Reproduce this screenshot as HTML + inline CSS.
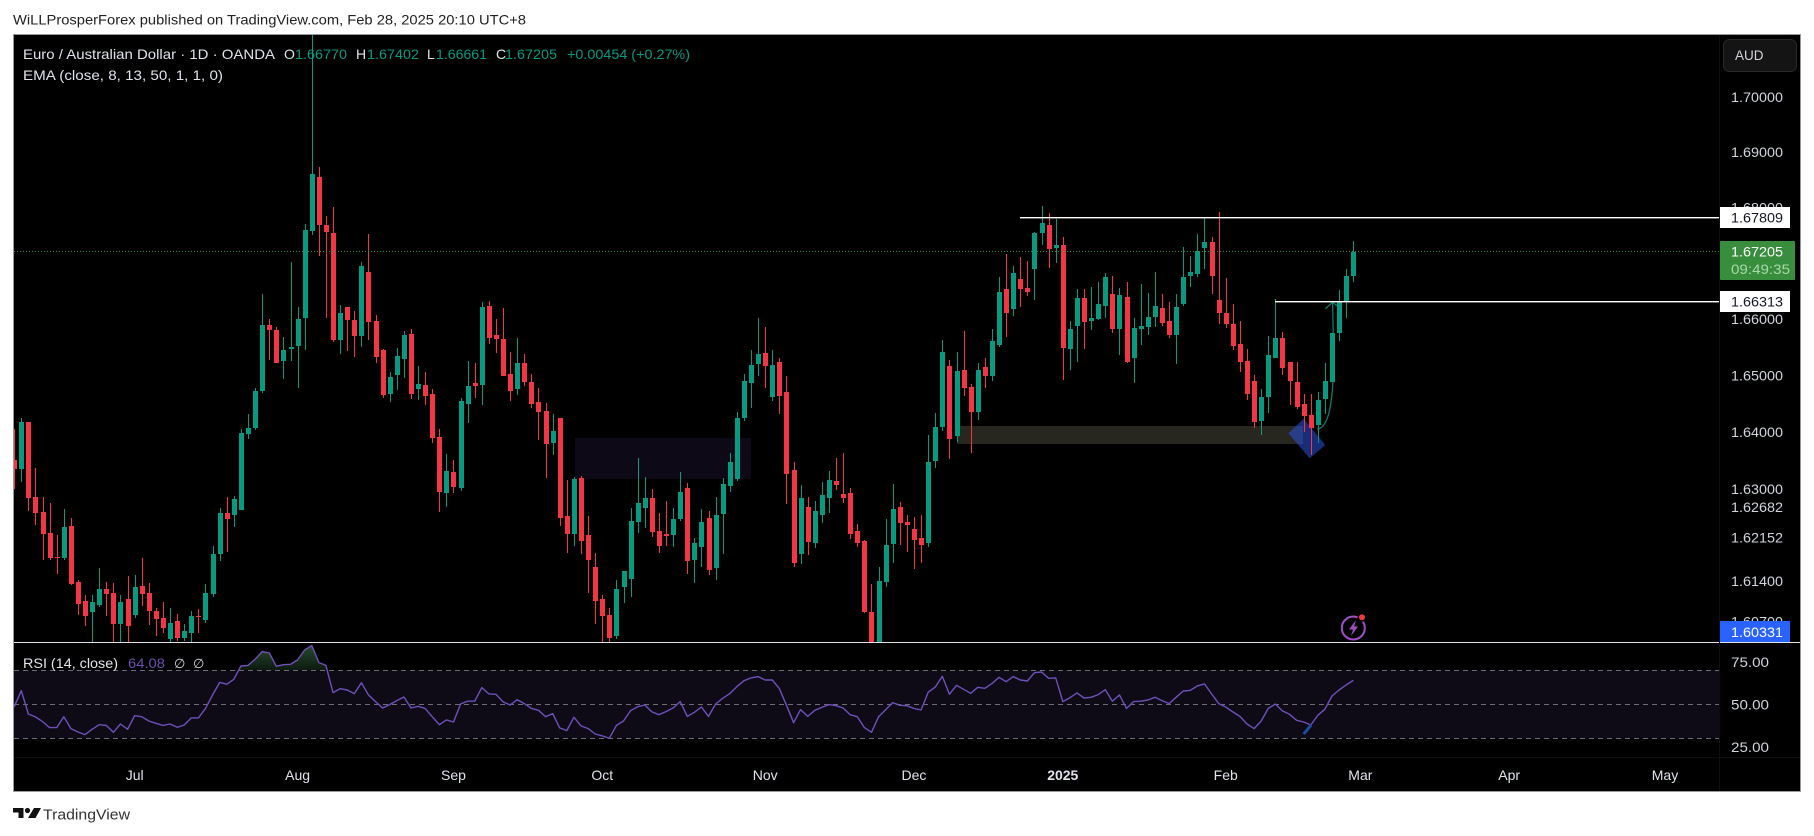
<!DOCTYPE html>
<html lang="en">
<head>
<meta charset="utf-8">
<title>EUR/AUD 1D chart</title>
<style>
html,body{margin:0;padding:0;background:#fff;width:1814px;height:836px;overflow:hidden}
svg{display:block;position:absolute;left:0;top:0}
text{font-family:"Liberation Sans",sans-serif}
</style>
</head>
<body>
<svg id="chart" width="1814" height="836" viewBox="0 0 1814 836" xmlns="http://www.w3.org/2000/svg">
  <defs>
    <clipPath id="clipMain"><rect x="14" y="35" width="1705" height="607"/></clipPath>
    <clipPath id="clipRsi"><rect x="14" y="644" width="1705" height="113"/></clipPath>
    <clipPath id="clipOb"><rect x="14" y="644" width="1705" height="26.3"/></clipPath>
    <linearGradient id="obGradient" gradientUnits="userSpaceOnUse" x1="0" y1="646" x2="0" y2="670">
      <stop offset="0" stop-color="#264a2c"/>
      <stop offset="1" stop-color="#0d1a10"/>
    </linearGradient>
  </defs>
  <rect x="0" y="0" width="1814" height="836" fill="#ffffff"/>
  <text x="13" y="24.5" font-size="14" fill="#222222" textLength="513" lengthAdjust="spacingAndGlyphs">WiLLProsperForex published on TradingView.com, Feb 28, 2025 20:10 UTC+8</text>
  <rect x="13.5" y="34.5" width="1787" height="757" fill="#000000" stroke="#9a9a9a" stroke-width="1"/>

  <g id="drawingsLayer" clip-path="url(#clipMain)">
    <rect x="575" y="438" width="176" height="41" fill="#0e0917"/>
    <rect x="957" y="426" width="346" height="18" fill="#27261f"/>
    <polygon points="1288.3,433.3 1303.7,418.7 1325.3,445 1309.7,458.3" fill="#2952dc" fill-opacity="0.55"/>
    <path d="M1317 429 C1328 429 1334 405 1333.6 350 L1332.6 303" fill="none" stroke="#0d7a69" stroke-width="1.3"/>
    <path d="M1325.3 308.7 L1332.7 302.3 L1339.3 307.3" fill="none" stroke="#0d7a69" stroke-width="1.3"/>
  </g>
  <g id="candleLayer" clip-path="url(#clipMain)"></g>
  <g id="priceAxis"></g>
  <g id="levelLayer"></g>

  <text x="23" y="59" font-size="14" fill="#e0e3eb" textLength="252" lengthAdjust="spacingAndGlyphs">Euro / Australian Dollar · 1D · OANDA</text>
  <text x="284" y="59" font-size="14" fill="#e0e3eb">O</text>
  <text x="295" y="59" font-size="14" fill="#089981" textLength="52" lengthAdjust="spacingAndGlyphs">1.66770</text>
  <text x="356" y="59" font-size="14" fill="#e0e3eb">H</text>
  <text x="367" y="59" font-size="14" fill="#089981" textLength="52" lengthAdjust="spacingAndGlyphs">1.67402</text>
  <text x="427" y="59" font-size="14" fill="#e0e3eb">L</text>
  <text x="436" y="59" font-size="14" fill="#089981" textLength="51" lengthAdjust="spacingAndGlyphs">1.66661</text>
  <text x="496" y="59" font-size="14" fill="#e0e3eb">C</text>
  <text x="505" y="59" font-size="14" fill="#089981" textLength="52" lengthAdjust="spacingAndGlyphs">1.67205</text>
  <text x="567" y="59" font-size="14" fill="#089981" textLength="123" lengthAdjust="spacingAndGlyphs">+0.00454 (+0.27%)</text>
  <text x="23" y="80" font-size="14" fill="#e0e3eb" textLength="200" lengthAdjust="spacingAndGlyphs">EMA (close, 8, 13, 50, 1, 1, 0)</text>

  <rect x="1723.5" y="39.5" width="73" height="32" rx="6" fill="#141414" stroke="#2a2a2a"/>
  <text x="1735" y="60" font-size="13.5" fill="#d1d4dc">AUD</text>

  <g>
    <circle cx="1353.3" cy="628" r="11.5" fill="none" stroke="#a04ec8" stroke-width="2"/>
    <path d="M1356 620 L1349 629.5 H1353 L1351 636 L1358 626.5 H1354 Z" fill="#a04ec8"/>
    <circle cx="1362" cy="617.3" r="4.5" fill="#000000"/>
    <circle cx="1362" cy="617.3" r="3" fill="#f23645"/>
  </g>

  <rect x="14" y="642" width="1786" height="1" fill="#e0e3eb"/>

  <g id="rsiLayer"></g>
  <text x="23" y="668" font-size="14" fill="#e0e3eb" textLength="95" lengthAdjust="spacingAndGlyphs">RSI (14, close)</text>
  <text x="128" y="668" font-size="14" fill="#6a4fb0" textLength="37" lengthAdjust="spacingAndGlyphs">64.08</text>
  <text x="174" y="668" font-size="13" fill="#d1d4dc">∅</text>
  <text x="193" y="668" font-size="13" fill="#d1d4dc">∅</text>

  <rect x="1719" y="35" width="1" height="756" fill="#0e0e0e"/>
  <rect x="14" y="757" width="1786" height="1" fill="#0e0e0e"/>
  <g id="timeAxis"></g>

  <g>
    <path d="M13 808 H23.5 V818 H18.5 V812.5 H13 Z" fill="#111111"/>
    <circle cx="27.5" cy="810.5" r="2.6" fill="#111111"/>
    <path d="M34 808 H41 L35.5 818 H28 Z" fill="#111111"/>
  </g>
  <text x="43" y="819.5" font-size="15" fill="#333333" textLength="87" lengthAdjust="spacingAndGlyphs">TradingView</text>
</svg>

<script>
const opens = [
1.6351,1.6335,1.6418,1.6286,1.6260,1.6223,1.6181,1.6180,1.6235,1.6138,
1.6105,1.6086,1.6098,1.6126,1.6119,1.6066,1.6109,1.6081,1.6131,1.6119,
1.6088,1.6076,1.6040,1.6071,1.6042,1.6050,1.6079,1.6073,1.6117,1.6187,
1.6258,1.6255,1.6264,1.6396,1.6407,1.6472,1.6589,1.6580,1.6525,1.6547,
1.6552,1.6602,1.6757,1.6855,1.6768,1.6754,1.6563,1.6621,1.6598,1.6570,
1.6684,1.6596,1.6545,1.6467,1.6501,1.6529,1.6574,1.6476,1.6483,1.6467,
1.6391,1.6293,1.6330,1.6302,1.6449,1.6487,1.6483,1.6623,1.6572,1.6564,
1.6502,1.6476,1.6522,1.6488,1.6453,1.6437,1.6381,1.6424,1.6253,1.6222,
1.6319,1.6220,1.6165,1.6109,1.6081,1.6045,1.6129,1.6143,1.6242,1.6267,
1.6284,1.6227,1.6222,1.6220,1.6248,1.6302,1.6176,1.6199,1.6249,1.6162,
1.6256,1.6305,1.6318,1.6424,1.6487,1.6520,1.6540,1.6462,1.6524,1.6471,
1.6333,1.6187,1.6268,1.6206,1.6255,1.6284,1.6314,1.6291,1.6293,1.6227,
1.6209,1.6086,1.6021,1.6138,1.6204,1.6268,1.6242,1.6230,1.6215,1.6206,
1.6349,1.6409,1.6517,1.6393,1.6510,1.6479,1.6435,1.6515,1.6499,1.6554,
1.6653,1.6618,1.6671,1.6655,1.6689,1.6754,1.6768,1.6727,1.6732,1.6547,
1.6588,1.6638,1.6596,1.6600,1.6623,1.6645,1.6582,1.6639,1.6531,1.6582,
1.6586,1.6604,1.6620,1.6596,1.6572,1.6627,1.6677,1.6680,1.6727,1.6738,
1.6634,1.6611,1.6591,1.6556,1.6525,1.6490,1.6419,1.6462,1.6531,1.6566,
1.6524,1.6488,1.6449,1.6430,1.6412,1.6458,1.6488,1.6575,1.6630,1.66770];

const highs = [
1.6405,1.6424,1.6418,1.6337,1.6286,1.6276,1.6220,1.6265,1.6249,1.6142,
1.6116,1.6116,1.6162,1.6138,1.6136,1.6116,1.6149,1.6150,1.6180,1.6136,
1.6093,1.6104,1.6093,1.6083,1.6066,1.6088,1.6091,1.6135,1.6201,1.6267,
1.6286,1.6288,1.6405,1.6432,1.6477,1.6645,1.6600,1.6586,1.6568,1.6702,
1.6621,1.6770,1.7150,1.6873,1.6784,1.6801,1.6625,1.6621,1.6614,1.6702,
1.6752,1.6607,1.6547,1.6506,1.6548,1.6579,1.6582,1.6517,1.6506,1.6476,
1.6405,1.6361,1.6351,1.6460,1.6525,1.6522,1.6630,1.6632,1.6600,1.6620,
1.6541,1.6566,1.6538,1.6502,1.6477,1.6451,1.6432,1.6424,1.6316,1.6321,
1.6323,1.6253,1.6188,1.6116,1.6093,1.6142,1.6157,1.6267,1.6355,1.6321,
1.6300,1.6258,1.6279,1.6267,1.6330,1.6311,1.6215,1.6265,1.6262,1.6286,
1.6319,1.6363,1.6435,1.6502,1.6545,1.6602,1.6586,1.6545,1.6531,1.6499,
1.6347,1.6307,1.6286,1.6279,1.6312,1.6332,1.6355,1.6363,1.6302,1.6239,
1.6211,1.6135,1.6165,1.6248,1.6309,1.6277,1.6255,1.6251,1.6255,1.6395,
1.6433,1.6563,1.6527,1.6541,1.6579,1.6485,1.6522,1.6531,1.6582,1.6675,
1.6716,1.6695,1.6711,1.6704,1.6756,1.6802,1.6790,1.6779,1.6747,1.6596,
1.6653,1.6653,1.6657,1.6666,1.6682,1.6677,1.6655,1.6666,1.6602,1.6662,
1.6646,1.6684,1.6645,1.6630,1.6645,1.6729,1.6713,1.6752,1.6781,1.6747,
1.6792,1.6673,1.6627,1.6596,1.6547,1.6501,1.6476,1.6570,1.6636,1.6577,
1.6524,1.6524,1.6467,1.6467,1.6471,1.6522,1.6575,1.6652,1.6689,1.67402];

const lows = [
1.6300,1.6312,1.6262,1.6237,1.6176,1.6176,1.6152,1.6176,1.6133,1.6081,
1.6062,1.6021,1.6095,1.6079,1.6030,1.6021,1.6021,1.6076,1.6097,1.6064,
1.6045,1.6050,1.6030,1.6036,1.6036,1.6025,1.6050,1.6067,1.6112,1.6175,
1.6190,1.6234,1.6264,1.6388,1.6404,1.6469,1.6527,1.6522,1.6494,1.6525,
1.6477,1.6545,1.6750,1.6713,1.6602,1.6559,1.6538,1.6543,1.6532,1.6550,
1.6563,1.6522,1.6460,1.6453,1.6474,1.6495,1.6458,1.6456,1.6448,1.6381,
1.6260,1.6268,1.6293,1.6297,1.6416,1.6460,1.6448,1.6556,1.6540,1.6499,
1.6455,1.6465,1.6481,1.6442,1.6386,1.6319,1.6360,1.6235,1.6188,1.6201,
1.6187,1.6119,1.6066,1.6021,1.6030,1.6040,1.6102,1.6112,1.6223,1.6232,
1.6216,1.6188,1.6201,1.6199,1.6244,1.6152,1.6136,1.6164,1.6150,1.6142,
1.6187,1.6295,1.6314,1.6419,1.6442,1.6499,1.6477,1.6455,1.6432,1.6274,
1.6164,1.6169,1.6185,1.6197,1.6240,1.6258,1.6298,1.6276,1.6213,1.6199,
1.6084,1.6004,1.6004,1.6129,1.6171,1.6202,1.6190,1.6161,1.6171,1.6199,
1.6337,1.6402,1.6353,1.6383,1.6463,1.6363,1.6421,1.6477,1.6490,1.6550,
1.6568,1.6605,1.6621,1.6641,1.6634,1.6732,1.6691,1.6700,1.6492,1.6510,
1.6524,1.6547,1.6580,1.6598,1.6602,1.6575,1.6536,1.6522,1.6487,1.6554,
1.6572,1.6586,1.6588,1.6566,1.6520,1.6623,1.6657,1.6675,1.6689,1.6645,
1.6591,1.6584,1.6545,1.6506,1.6456,1.6407,1.6395,1.6433,1.6531,1.6501,
1.6448,1.6441,1.6400,1.6360,1.6381,1.6432,1.6488,1.6561,1.6602,1.66661];

const closes = [
1.6335,1.6418,1.6284,1.6258,1.6222,1.6180,1.6180,1.6234,1.6135,1.6100,
1.6079,1.6104,1.6126,1.6117,1.6066,1.6104,1.6062,1.6129,1.6117,1.6088,
1.6074,1.6059,1.6067,1.6042,1.6054,1.6079,1.6078,1.6119,1.6187,1.6258,
1.6248,1.6282,1.6398,1.6407,1.6472,1.6589,1.6580,1.6522,1.6545,1.6550,
1.6600,1.6759,1.6860,1.6768,1.6756,1.6563,1.6611,1.6598,1.6570,1.6695,
1.6595,1.6532,1.6465,1.6497,1.6534,1.6572,1.6467,1.6485,1.6463,1.6390,
1.6295,1.6332,1.6304,1.6455,1.6481,1.6481,1.6621,1.6566,1.6564,1.6499,
1.6472,1.6522,1.6488,1.6449,1.6435,1.6379,1.6402,1.6249,1.6222,1.6318,
1.6209,1.6176,1.6105,1.6079,1.6042,1.6126,1.6157,1.6244,1.6276,1.6284,
1.6225,1.6201,1.6218,1.6248,1.6295,1.6175,1.6206,1.6242,1.6159,1.6255,
1.6309,1.6347,1.6425,1.6490,1.6518,1.6538,1.6517,1.6518,1.6463,1.6326,
1.6171,1.6284,1.6208,1.6262,1.6290,1.6316,1.6307,1.6284,1.6222,1.6206,
1.6086,1.6021,1.6140,1.6202,1.6265,1.6240,1.6237,1.6211,1.6202,1.6347,
1.6409,1.6541,1.6388,1.6508,1.6477,1.6435,1.6510,1.6499,1.6561,1.6648,
1.6611,1.6682,1.6653,1.6648,1.6754,1.6772,1.6725,1.6732,1.6548,1.6582,
1.6638,1.6595,1.6602,1.6627,1.6675,1.6582,1.6643,1.6524,1.6584,1.6588,
1.6604,1.6623,1.6593,1.6572,1.6621,1.6675,1.6684,1.6721,1.6738,1.6677,
1.6611,1.6591,1.6552,1.6524,1.6467,1.6418,1.6462,1.6536,1.6566,1.6513,
1.6490,1.6444,1.6428,1.6407,1.6456,1.6490,1.6575,1.6630,1.6677,1.67205];

const rsiValues = [
48.6,58.0,44.3,42.5,39.8,36.3,36.3,42.7,35.7,33.7,
32.2,35.3,38.0,37.5,33.5,38.4,35.3,43.3,42.7,40.2,
38.8,37.6,38.4,36.5,37.8,42.0,42.0,47.6,55.5,62.9,
61.8,64.7,72.5,72.9,76.5,81.0,80.2,72.4,73.3,73.5,
76.1,82.0,84.5,74.5,72.9,56.9,59.2,58.4,56.3,62.7,
55.5,51.6,47.8,49.8,52.2,54.3,47.8,48.8,47.6,42.7,
38.0,40.8,39.6,50.2,51.8,51.8,59.8,56.1,55.9,51.4,
49.6,52.7,50.4,47.6,46.5,42.7,44.5,36.1,34.5,42.4,
37.3,35.7,32.5,31.4,30.0,37.6,40.2,46.3,48.6,49.6,
45.5,43.9,45.7,47.8,51.6,42.9,45.3,48.4,42.9,50.2,
53.5,56.3,60.4,63.9,65.5,66.3,64.3,64.3,59.2,49.4,
39.2,46.9,42.9,46.5,48.2,49.8,49.2,47.8,43.9,42.7,
36.3,33.5,42.7,46.9,51.0,49.4,49.2,47.5,46.7,57.1,
60.2,66.5,55.9,61.2,58.8,56.5,60.0,59.4,62.2,65.9,
63.3,66.3,64.3,63.7,68.6,69.0,65.3,65.5,51.6,53.9,
56.7,53.7,54.1,55.7,58.6,51.8,55.5,47.6,51.6,51.8,
52.5,54.1,52.2,50.4,54.1,57.8,58.2,60.8,62.0,56.1,
50.4,48.4,45.5,42.9,38.4,35.7,40.2,47.5,50.2,46.1,
44.1,40.6,39.6,37.8,43.5,47.1,54.9,58.4,61.4,64.08];

const priceTicks = [1.70000,1.69000,1.68000,1.66000,1.65000,1.64000,1.63000,1.62682,1.62152,1.61400,1.60700];
const rsiTicks = [75,50,25];
const rsiLevels = [70,50,30];
const timeLabels = ["Jul","Aug","Sep","Oct","Nov","Dec","2025","Feb","Mar","Apr","May"];
const timeBars = [17,40,62,83,106,127,148,171,190,211,233];
const horizontalLevels = [1.67809,1.66313];
const horizontalStartBars = [142,178];
const lastPrice = 1.67205;
const countdown = "09:49:35";
const diagonalRsiFrom = [182,32.5];
const diagonalRsiTo = [183.05,37.8];

const NS = "http://www.w3.org/2000/svg";
function xAt(i){ return 14.2 + 7.085 * i; }
function yAt(p){ return 97 + 9322 * Math.log(1.7 / p); }
function rsiY(v){ return 704.3 - (v - 50) * 1.7; }
function make(tag, attrs, parent){
  const el = document.createElementNS(NS, tag);
  for (const k in attrs) el.setAttribute(k, attrs[k]);
  parent.appendChild(el);
  return el;
}

const candleLayer = document.getElementById("candleLayer");
const GREEN = "#089981", RED = "#f23645";
for (let i = 0; i < closes.length; i++) {
  const cx = Math.round(xAt(i));
  const col = closes[i] >= opens[i] ? GREEN : RED;
  const hiY = Math.round(yAt(highs[i]));
  const loY = Math.round(yAt(lows[i]));
  const topY = Math.round(yAt(Math.max(opens[i], closes[i])));
  const botY = Math.round(yAt(Math.min(opens[i], closes[i])));
  const wick = make("rect", {x: cx, y: hiY, width: 1, height: Math.max(1, loY - hiY), fill: col, "shape-rendering": "crispEdges"}, candleLayer);
  
  
  const body = make("rect", {x: cx - 2, y: topY, width: 5, height: Math.max(1, botY - topY), fill: col, "shape-rendering": "crispEdges"}, candleLayer);
  
  
}

const priceAxis = document.getElementById("priceAxis");
priceTicks.forEach(function (p) {
  const t = make("text", {x: 1731, y: yAt(p) + 5, "font-size": 14, fill: "#d1d4dc", textLength: 52, lengthAdjust: "spacingAndGlyphs"}, priceAxis);
  t.textContent = p.toFixed(5);
  
  
});

const levelLayer = document.getElementById("levelLayer");
const dotted = make("line", {x1: 14, x2: 1719, y1: Math.floor(yAt(lastPrice)) + 0.5, y2: Math.floor(yAt(lastPrice)) + 0.5, stroke: "#388e3c", "stroke-width": 1, "stroke-dasharray": "1 2"}, levelLayer);



horizontalLevels.forEach(function (p, k) {
  const ly = Math.floor(yAt(p));
  const startX = Math.round(xAt(horizontalStartBars[k]));
  const line = make("rect", {x: startX, y: ly, width: 1719 - startX, height: 1.4, fill: "#ffffff"}, levelLayer);
  
  
  const box = make("rect", {x: 1720, y: ly - 10, width: 70, height: 21, fill: "#ffffff"}, levelLayer);
  
  
  const txt = make("text", {x: 1731, y: ly + 5.5, "font-size": 14, fill: "#131722", textLength: 52, lengthAdjust: "spacingAndGlyphs"}, levelLayer);
  txt.textContent = p.toFixed(5);
  
  
});

const lastBox = make("rect", {x: 1720, y: 241, width: 75, height: 39, fill: "#388e3c", rx: 1}, levelLayer);


const lastTxt = make("text", {x: 1731, y: yAt(lastPrice) + 5, "font-size": 14, fill: "#ffffff", textLength: 52, lengthAdjust: "spacingAndGlyphs"}, levelLayer);
lastTxt.textContent = lastPrice.toFixed(5);


const cdTxt = make("text", {x: 1731, y: 274, "font-size": 14, fill: "#a9d8ab", textLength: 59, lengthAdjust: "spacingAndGlyphs"}, levelLayer);
cdTxt.textContent = countdown;


const blueBox = make("rect", {x: 1720, y: 621, width: 70, height: 21, fill: "#2962ff"}, levelLayer);


const blueTxt = make("text", {x: 1731, y: 637, "font-size": 14, fill: "#ffffff", textLength: 52, lengthAdjust: "spacingAndGlyphs"}, levelLayer);
blueTxt.textContent = "1.60331";



const rsiLayer = document.getElementById("rsiLayer");
const band = make("rect", {x: 14, y: rsiY(70), width: 1705, height: rsiY(30) - rsiY(70), fill: "#0e0b17"}, rsiLayer);


const pts = rsiValues.map(function (v, i) { return xAt(i).toFixed(1) + "," + rsiY(v).toFixed(1); });
const ob = make("polygon", {points: xAt(0) + "," + rsiY(70) + " " + pts.join(" ") + " " + xAt(rsiValues.length - 1) + "," + rsiY(70), fill: "url(#obGradient)", "clip-path": "url(#clipOb)"}, rsiLayer);


rsiLevels.forEach(function (lv) {
  const l = make("line", {x1: 14, x2: 1719, y1: Math.round(rsiY(lv)) + 0.5, y2: Math.round(rsiY(lv)) + 0.5, stroke: "#6e6b76", "stroke-width": 1, "stroke-dasharray": "5 4"}, rsiLayer);
  
  
});
const rsiLine = make("polyline", {points: pts.join(" "), fill: "none", stroke: "#6f50b8", "stroke-width": 1.4, "stroke-linejoin": "round", "clip-path": "url(#clipRsi)"}, rsiLayer);


const diag = make("line", {x1: xAt(diagonalRsiFrom[0]), y1: rsiY(diagonalRsiFrom[1]), x2: xAt(diagonalRsiTo[0]), y2: rsiY(diagonalRsiTo[1]), stroke: "#1f4a9e", "stroke-width": 3}, rsiLayer);


rsiTicks.forEach(function (v) {
  const t = make("text", {x: 1731, y: rsiY(v) + 5, "font-size": 14, fill: "#d1d4dc", textLength: 38, lengthAdjust: "spacingAndGlyphs"}, rsiLayer);
  t.textContent = v.toFixed(2);
  
  
});

const timeAxis = document.getElementById("timeAxis");
timeLabels.forEach(function (lab, k) {
  const t = make("text", {x: xAt(timeBars[k]), y: 780, "font-size": 14, fill: "#e0e3eb", "text-anchor": "middle", "font-weight": lab === "2025" ? "bold" : "normal"}, timeAxis);
  t.textContent = lab;
  
  
});
</script>
</body>
</html>
